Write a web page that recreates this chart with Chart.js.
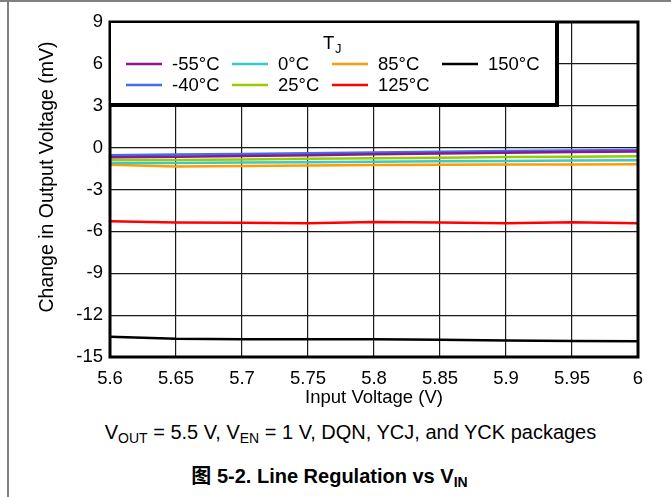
<!DOCTYPE html>
<html>
<head>
<meta charset="utf-8">
<script src="https://cdn.jsdelivr.net/npm/chart.js@4"></script>
<style>
  body { margin: 0; background: #fff; font-family: "Liberation Sans", Arial, "Noto Sans CJK SC", sans-serif; }
  #page { position: relative; width: 671px; height: 497px; overflow: hidden; }
  #frameTop { position: absolute; left: 0; top: 0; width: 671px; height: 2px; background: #808080; }
  #frameLeft { position: absolute; left: 7px; top: 0; width: 2px; height: 497px; background: #808080; }
  #chartBox { position: absolute; left: 0; top: 0; width: 671px; height: 410px; }
  .caption { position: absolute; width: 671px; text-align: center; color: #000; white-space: nowrap; }
  #cond { top: 421px; left: 15px; font-size: 20px; }
  #figTitle { top: 460px; left: -6px; font-size: 20px; font-weight: bold; }
  sub { font-size: 70%; vertical-align: -0.25em; line-height: 0; }
</style>
</head>
<body>
<div id="page">
  <div id="frameTop"></div>
  <div id="frameLeft"></div>
  <div id="chartBox"><canvas id="myChart"></canvas></div>
  <div class="caption" id="cond">V<sub>OUT</sub> = 5.5 V, V<sub>EN</sub> = 1 V, DQN, YCJ, and YCK packages</div>
  <div class="caption" id="figTitle">图 5-2. Line Regulation vs V<sub>IN</sub></div>
</div>
<script>
// input voltage (V)
const vin = [5.6, 5.65, 5.7, 5.75, 5.8, 5.85, 5.9, 5.95, 6];

// change in output voltage (mV) per junction temperature
const tMinus55 = [-0.69, -0.66, -0.60, -0.55, -0.48, -0.42, -0.37, -0.32, -0.27];
const tMinus40 = [-0.54, -0.50, -0.45, -0.40, -0.35, -0.30, -0.25, -0.21, -0.17];
const t0 = [-1.10, -1.10, -1.07, -1.04, -1.01, -0.98, -0.95, -0.93, -0.91];
const t25 = [-0.89, -0.88, -0.85, -0.80, -0.76, -0.72, -0.68, -0.65, -0.62];
const t85 = [-1.23, -1.36, -1.32, -1.28, -1.25, -1.23, -1.21, -1.20, -1.19];
const t125 = [-5.27, -5.36, -5.38, -5.41, -5.32, -5.37, -5.41, -5.34, -5.41];
const t150 = [-13.55, -13.70, -13.72, -13.73, -13.72, -13.76, -13.82, -13.86, -13.88];

const xTicks = ['5.6', '5.65', '5.7', '5.75', '5.8', '5.85', '5.9', '5.95', '6'];
const yTicks = [9, 6, 3, 0, -3, -6, -9, -12, -15];

const FONT = '"Liberation Sans", Arial, sans-serif';
const Y_TITLE = 'Change in Output Voltage (mV)';

const series = [
  { label: '-55°C', data: tMinus55, color: '#8a1a8a' },
  { label: '-40°C', data: tMinus40, color: '#3f6ef0' },
  { label: '0°C', data: t0, color: '#3cc8c8' },
  { label: '25°C', data: t25, color: '#99cc00' },
  { label: '85°C', data: t85, color: '#ff9c00' },
  { label: '125°C', data: t125, color: '#ff0000' },
  { label: '150°C', data: t150, color: '#000000' },
];

const chartDataset = series.map(s => ({
  label: s.label,
  data: s.data.map((v, i) => ({ x: vin[i], y: v })),
  borderColor: s.color,
  backgroundColor: s.color,
  borderWidth: 2.5,
  pointRadius: 0,
  tension: 0,
}));

// legend slots: column / row inside the legend box
const legendSlots = {
  '-55°C': [0, 0], '0°C': [1, 0], '85°C': [2, 0], '150°C': [3, 0],
  '-40°C': [0, 1], '25°C': [1, 1], '125°C': [2, 1],
};

const framePlugin = {
  id: 'frame',
  afterDraw(chart) {
    const ctx = chart.ctx;
    const a = chart.chartArea;
    ctx.save();
    ctx.strokeStyle = '#000';
    ctx.lineWidth = 3;
    ctx.strokeRect(a.left, a.top, a.right - a.left, a.bottom - a.top);

    // y axis title (sits a bit above the plot centre in the original)
    ctx.save();
    ctx.translate(48, 177);
    ctx.rotate(-Math.PI / 2);
    ctx.fillStyle = '#000';
    ctx.font = '19.5px ' + FONT;
    ctx.textAlign = 'center';
    ctx.textBaseline = 'middle';
    ctx.fillText(Y_TITLE, 0, 0);
    ctx.restore();

    // legend box
    const bx = a.left, by = a.top, bw = 446, bh = 82;
    ctx.fillStyle = '#fff';
    ctx.fillRect(bx, by, bw, bh);
    ctx.lineWidth = 2;
    ctx.strokeRect(bx, by, bw, bh);
    ctx.beginPath();
    ctx.moveTo(bx + bw + 2, by + 1);
    ctx.lineTo(bx + bw + 2, by + bh + 2);
    ctx.lineTo(bx + 1, by + bh + 2);
    ctx.stroke();

    ctx.fillStyle = '#000';
    ctx.textBaseline = 'middle';
    ctx.textAlign = 'left';
    ctx.font = '18.5px ' + FONT;
    ctx.fillText('T', 323, 44);
    ctx.font = '13px ' + FONT;
    ctx.fillText('J', 335, 49);

    const colX = [126, 232, 332, 442];
    const rowY = [64, 85];
    ctx.font = '18.5px ' + FONT;
    chart.data.datasets.forEach(ds => {
      const [c, r] = legendSlots[ds.label];
      const x = colX[c], y = rowY[r];
      ctx.strokeStyle = ds.borderColor;
      ctx.lineWidth = 2.5;
      ctx.beginPath();
      ctx.moveTo(x, y);
      ctx.lineTo(x + 36, y);
      ctx.stroke();
      ctx.fillStyle = '#000';
      ctx.fillText(ds.label, x + 46, y + 1);
    });
    ctx.restore();
  }
};

const ctx = document.getElementById('myChart');
const chart = new Chart(ctx, {
  type: 'line',
  data: { datasets: chartDataset },
  options: {
    responsive: true,
    maintainAspectRatio: false,
    animation: false,
    layout: { padding: { left: 0, top: 22, right: 33, bottom: 0 } },
    scales: {
      x: {
        type: 'linear',
        min: 5.6,
        max: 6,
        afterBuildTicks: (scale) => { scale.ticks = vin.map(v => ({ value: v })); },
        afterFit: (scale) => { scale.height = 53; },
        grid: { color: '#1a1a1a', lineWidth: 1.2, drawTicks: false },
        border: { display: false },
        ticks: {
          color: '#000',
          font: { family: FONT, size: 18.5 },
          padding: 11,
          maxRotation: 0,
          callback: (value, index) => xTicks[index],
        },
        title: {
          display: true,
          text: 'Input Voltage (V)',
          color: '#000',
          font: { family: FONT, size: 18.5 },
          padding: { top: 0, bottom: 1 },
        },
      },
      y: {
        min: -15,
        max: 9,
        afterBuildTicks: (scale) => { scale.ticks = yTicks.map(v => ({ value: v })); },
        afterFit: (scale) => { scale.width = 110; },
        grid: { color: '#1a1a1a', lineWidth: 1.2, drawTicks: false },
        border: { display: false },
        ticks: {
          color: '#000',
          font: { family: FONT, size: 18.5 },
          padding: 7,
        },
        title: { display: false },
      },
    },
    plugins: {
      legend: { display: false },
      tooltip: { enabled: false },
      title: { display: false },
    },
  },
  plugins: [framePlugin],
});
</script>
</body>
</html>
